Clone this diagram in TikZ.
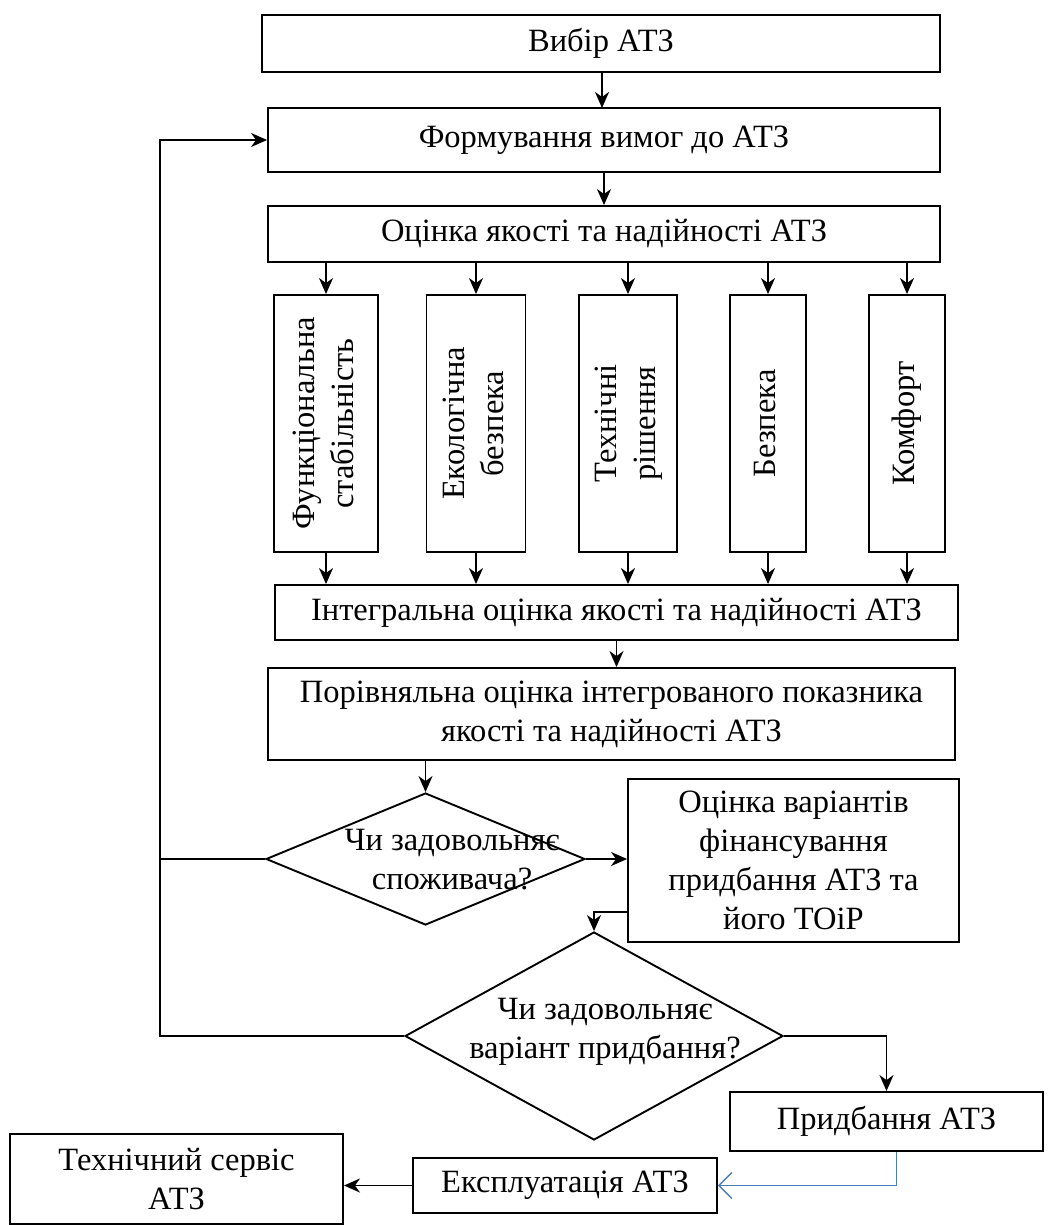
\documentclass[tikz,border=0pt]{standalone}
\usepackage{fontspec}
\setmainfont{Liberation Serif}
\usepackage{graphicx}
\usetikzlibrary{arrows.meta,shapes.geometric}

\begin{document}
\begin{tikzpicture}[x=1pt, y=-1pt, line width=1.9pt,
    font=\fontsize{32.5}{39}\selectfont,
    >={Stealth[length=16pt, width=14pt, inset=5pt]}]
  \tikzset{box/.style={draw, rectangle, align=center, inner sep=0pt},
           decision/.style={draw, diamond, inner sep=0pt},
           blueline/.style={draw={rgb,255:red,74;green,126;blue,187}, line width=1.4pt}}
  \useasboundingbox (0,0) rectangle (1051,1225);

  \node [box, minimum width=678, minimum height=57] (vybir) at (601,43.5) {Вибір АТЗ};
  \node [box, minimum width=672, minimum height=64] (vymohy) at (604,140) {Формування вимог до АТЗ};
  \node [box, minimum width=672, minimum height=56] (otsinka) at (604,234) {Оцінка якості та надійності АТЗ};

  \draw [->] (vybir.south -| 602,0) -- (602,108);
  \draw [->] (vymohy.south) -- (vymohy.south |- otsinka.north);

  \foreach \n/\x/\w/\t in {f1/326/104/{Функціональна\\стабільність},
                           f2/476/99/{Екологічна\\безпека},
                           f3/628/98/{Технічні\\рішення},
                           f4/768/76/{Безпека},
                           f5/907/76/{Комфорт}} {
    \node [box, minimum width=\w, minimum height=257] (\n) at (\x,423.5)
          {\rotatebox{90}{\begin{tabular}{@{}c@{}}\t\end{tabular}}};
    \draw [->] (otsinka.south -| \n.north) -- (\n.north);
  }

  \node [box, minimum width=683, minimum height=55] (intehr) at (616.5,612.5)
        {Інтегральна оцінка якості та надійності АТЗ};
  \foreach \n in {f1,f2,f3,f4,f5} {
    \draw [->] (\n.south) -- (intehr.north -| \n.south);
  }

  \node [box, minimum width=687, minimum height=92] (porivn) at (611.5,714)
        {Порівняльна оцінка інтегрованого показника\\якості та надійності АТЗ};
  \draw [->] (intehr.south) -- (intehr.south |- porivn.north);

  % perevirka spozhyvacha
  \node [decision, minimum width=319, minimum height=132] (pytannia1) at (425.5,859) {};
  \node [align=center] (pytannia1text) at (452,860) {Чи задовольняє\\споживача?};
  \draw [->] (porivn.south -| pytannia1.north) -- (pytannia1.north);

  \node [box, minimum width=331, minimum height=163] (finans) at (793.5,860.5)
        {Оцінка варіантів\\фінансування\\придбання АТЗ та\\його ТОіР};
  \draw [->] (pytannia1.east) -- (finans.west |- pytannia1.east);

  % perevirka variantu
  \node [decision, minimum width=378, minimum height=208] (pytannia2) at (594,1036) {};
  \node [align=center] (pytannia2text) at (605,1032) {Чи задовольняє\\варіант придбання?};
  \draw [->] ([yshift=-51.5pt]finans.west) -| (pytannia2.north);

  \coordinate (kut) at (160,140);
  \draw (pytannia1.west) -- (pytannia1.west -| kut);
  \draw [->] (pytannia2.west) -| (kut) -- (vymohy.west);

  \node [box, minimum width=313, minimum height=59] (prydbannia) at (886.5,1121.5) {Придбання АТЗ};
  \draw [->] (pytannia2.east) -| (prydbannia.north);

  \node [box, minimum width=304, minimum height=55] (ekspl) at (565,1185.5) {Експлуатація АТЗ};
  \draw [blueline, -{Straight Barb[length=13pt, width=26pt]}]
        ([xshift=10pt]prydbannia.south) |- (ekspl.east);

  \node [box, minimum width=333, minimum height=90] (servis) at (176.5,1179) {Технічний сервіс\\АТЗ};
  \draw [->] (ekspl.west) -- (servis.east |- ekspl.west);

\end{tikzpicture}
\end{document}
